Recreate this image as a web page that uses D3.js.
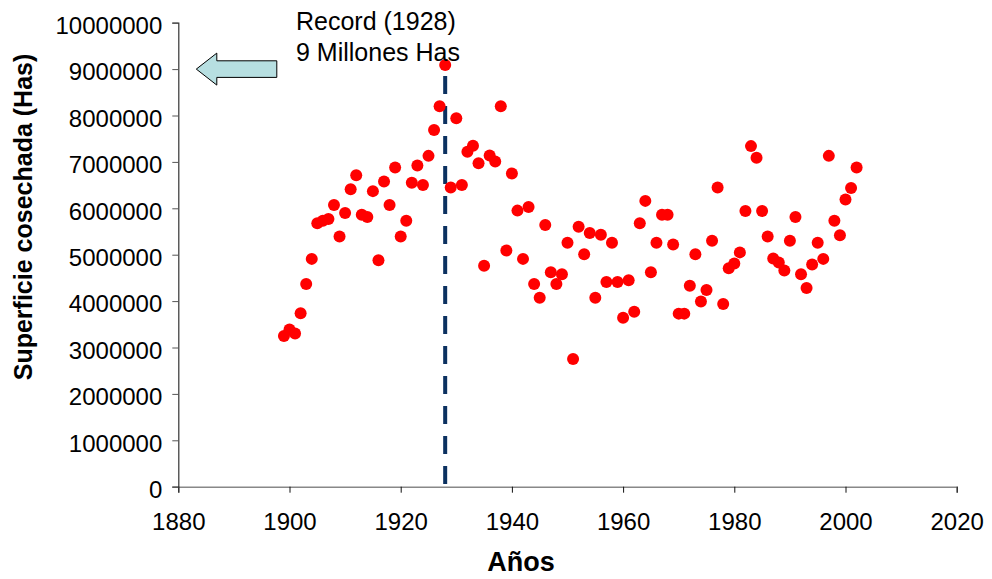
<!DOCTYPE html>
<html lang="es">
<head>
<meta charset="UTF-8">
<title>Superficie cosechada</title>
<script src="https://d3js.org/d3.v7.min.js"></script>
<style>
  body { margin: 0; background: #fff; }
  text { font-family: "Liberation Sans", Arial, sans-serif; fill: #000; }
</style>
</head>
<body>
<div id="chart"></div>
<script>
// data
var years = d3.range(1899, 2003);
var areas = [
  3.25, 3.39, 3.30, 3.74, 4.37, 4.91, 5.68, 5.73, 5.77, 6.07,
  5.39, 5.90, 6.41, 6.71, 5.86, 5.81, 6.37, 4.88, 6.58, 6.07,
  6.88, 5.39, 5.73, 6.55, 6.92, 6.50, 7.13, 7.69, 8.20, 9.09,
  6.45, 7.94, 6.50, 7.22, 7.35, 6.97, 4.76, 7.14, 7.01, 8.20,
  5.09, 6.75, 5.95, 4.91, 6.03, 4.37, 4.07, 5.64, 4.62, 4.37,
  4.58, 5.26, 2.75, 5.60, 5.01, 5.47, 4.07, 5.43, 4.41, 5.26,
  4.41, 3.64, 4.45, 3.77, 5.68, 6.16, 4.62, 5.26, 5.86, 5.86,
  5.22, 3.73, 3.73, 4.33, 5.01, 3.99, 4.24, 5.30, 6.45, 3.94,
  4.71, 4.81, 5.05, 5.94, 7.34, 7.09, 5.94, 5.39, 4.92, 4.83,
  4.66, 5.30, 5.81, 4.58, 4.28, 4.79, 5.26, 4.91, 7.13, 5.73,
  5.42, 6.19, 6.44, 6.88
].map(function(v) { return v * 1e6; });
var xTicks = [1880, 1900, 1920, 1940, 1960, 1980, 2000, 2020];
var yTicks = [0, 1e6, 2e6, 3e6, 4e6, 5e6, 6e6, 7e6, 8e6, 9e6, 1e7];
var recordYear = 1928;
var recordArea = 9e6;

var width = 992, height = 579;
var margin = {top: 22.7, right: 35.3, bottom: 92.3, left: 178.3};

var svg = d3.select("#chart").append("svg")
  .attr("width", width)
  .attr("height", height);

var x = d3.scaleLinear().domain([1880, 2020]).range([margin.left, width - margin.right]);
var y = d3.scaleLinear().domain([0, 1e7]).range([height - margin.bottom, margin.top]);

// axes
var xAxis = svg.append("g")
  .attr("transform", "translate(0," + y(0) + ")")
  .call(d3.axisBottom(x).tickValues(xTicks).tickFormat(d3.format("d")).tickSizeOuter(0).tickSize(6).tickPadding(20));
xAxis.select(".domain").attr("stroke", "#888").attr("stroke-width", 1.5);
xAxis.selectAll(".tick line").attr("stroke", "#111");
xAxis.selectAll(".tick text").attr("font-size", 24);

var yAxis = svg.append("g")
  .attr("transform", "translate(" + x(1880) + ",0)")
  .call(d3.axisLeft(y).tickValues(yTicks).tickFormat(d3.format("d")).tickSizeOuter(0).tickSize(6).tickPadding(10));
yAxis.select(".domain").attr("stroke", "#333").attr("stroke-width", 1.2);
yAxis.selectAll(".tick line").attr("stroke", "#555");
yAxis.selectAll(".tick text").attr("font-size", 24).attr("dy", "0.45em");

// axis titles
svg.append("text")
  .attr("x", 521)
  .attr("y", 571)
  .attr("text-anchor", "middle")
  .attr("font-size", 27)
  .attr("font-weight", "bold")
  .text("Años");

svg.append("text")
  .attr("transform", "translate(32,217) rotate(-90)")
  .attr("text-anchor", "middle")
  .attr("font-size", 25)
  .attr("font-weight", "bold")
  .text("Superficie cosechada (Has)");

// record marker line
svg.append("line")
  .attr("x1", x(recordYear)).attr("x2", x(recordYear))
  .attr("y1", y(8.85e6)).attr("y2", y(0))
  .attr("stroke", "#0b3160")
  .attr("stroke-width", 4)
  .attr("stroke-dasharray", "18,12");

// points
svg.append("g").selectAll("circle")
  .data(years)
  .enter()
  .append("circle")
  .attr("cx", function(d) { return x(d); })
  .attr("cy", function(d, i) { return y(areas[i]); })
  .attr("r", 6)
  .attr("fill", "#ff0000");

// arrow pointing at the 9M level
var ay = y(recordArea), ax = x(1880) + 18;
var arrow = [
  [ax, ay], [ax + 20.5, ay - 16], [ax + 20.5, ay - 8.3], [ax + 80.5, ay - 8.3],
  [ax + 80.5, ay + 8.3], [ax + 20.5, ay + 8.3], [ax + 20.5, ay + 16]
];
svg.append("path")
  .attr("d", d3.line()(arrow) + "Z")
  .attr("fill", "#b7dfe1")
  .attr("stroke", "#000")
  .attr("stroke-width", 1);

// annotation
var note = svg.append("text")
  .attr("x", 296)
  .attr("font-size", 25);
note.append("tspan").attr("x", 296).attr("y", 30).text("Record (" + recordYear + ")");
note.append("tspan").attr("x", 296).attr("y", 61).text("9 Millones Has");
</script>
</body>
</html>
